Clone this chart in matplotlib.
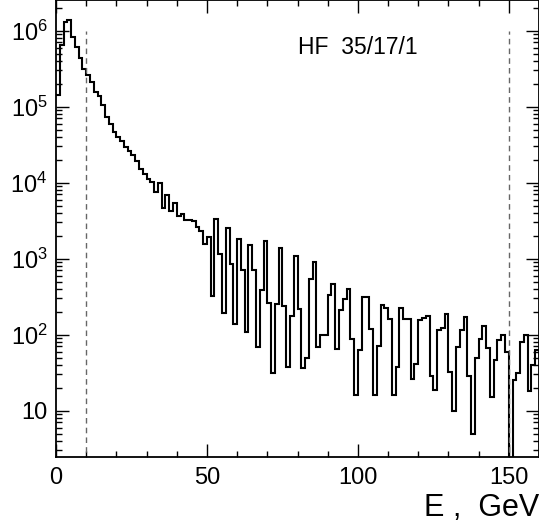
import numpy as np
import matplotlib
matplotlib.use('Agg')
from matplotlib import pyplot as plt
from matplotlib.ticker import FixedLocator, LogLocator, NullFormatter

plt.rcParams['font.family'] = ['Liberation Sans', 'DejaVu Sans']
plt.rcParams['mathtext.fontset'] = 'custom'
plt.rcParams['mathtext.rm'] = 'Liberation Sans'
plt.rcParams['mathtext.it'] = 'Liberation Sans:italic'

# energy histogram, 1.25 GeV bins from 0 to 160 GeV
bin_width = 1.25
counts = [
    141000, 646000, 1318000, 1380000, 813000, 617000, 437000, 316000,
    263000, 209000, 158000, 138000, 105000, 74000, 60000, 47000,
    40000, 35000, 29500, 26300, 23400, 19000, 15100, 12900,
    11200, 10200, 7600, 10000, 4600, 6900, 4200, 5400,
    3600, 3900, 3200, 3200, 3100, 2600, 2300, 1550,
    1950, 320, 3300, 1150, 195, 2570, 850, 138,
    1820, 720, 107, 1510, 720, 68, 390, 1700,
    263, 31, 257, 1380, 240, 38, 174, 1080,
    219, 37, 50, 537, 912, 69, 100, 100,
    331, 468, 65, 211, 295, 398, 87, 16,
    63, 316, 309, 120, 16, 72, 245, 224,
    162, 16, 38, 224, 162, 162, 26, 41,
    155, 166, 174, 29, 19, 115, 123, 186,
    32, 10, 69, 117, 170, 29, 5, 49,
    89, 129, 66, 15, 47, 85, 100, 60,
    0, 25, 31, 79, 100, 18, 40, 63,
]
cut_lines = [10, 150]
label_text = 'HF  35/17/1'
x_major = [0, 50, 100, 150]

counts = np.array(counts, dtype=float)
edges = np.arange(len(counts) + 1) * bin_width
drawn = np.where(counts > 0, counts, 1e-3)

fig = plt.figure(figsize=(5.39, 5.29), dpi=100)
ax = fig.add_axes([56 / 539, 72 / 529, 1 - 56 / 539, 1 - 72 / 529])

ax.stairs(drawn, edges, color='black', linewidth=1.5, baseline=None)
ax.vlines(cut_lines, 1e-3, 1e6, colors='#666666', linestyles=(0, (4, 3)),
          linewidth=1.0)

ax.set_yscale('log')
ax.set_xlim(0, 160)
ax.set_ylim(2.46, 2.53e6)

ax.xaxis.set_major_locator(FixedLocator(x_major))
ax.xaxis.set_minor_locator(FixedLocator(np.arange(0, 161, 10)))
ax.set_xticklabels([str(v) for v in x_major])

ax.yaxis.set_major_locator(FixedLocator([1e1, 1e2, 1e3, 1e4, 1e5, 1e6]))
ax.yaxis.set_minor_locator(LogLocator(base=10, subs=np.arange(2, 10)))
ax.yaxis.set_minor_formatter(NullFormatter())
ax.set_yticklabels(['10', r'$10^{2}$', r'$10^{3}$', r'$10^{4}$',
                    r'$10^{5}$', r'$10^{6}$'])

ax.tick_params(which='both', direction='in', top=True, right=True,
               labelsize=17, width=1.0, color='black')
ax.tick_params(which='major', length=9.5)
ax.tick_params(which='minor', length=4.5)
ax.tick_params(axis='x', pad=7)
ax.tick_params(axis='y', pad=6)
for s in ax.spines.values():
    s.set_linewidth(1.3)

fig.text(298 / 539, 1 - 47 / 529, label_text, fontsize=16.5, ha='left',
         va='center')
fig.text(424 / 539, 1 - 508 / 529, 'E ,  GeV', fontsize=22, ha='left',
         va='center')

plt.savefig('out.png', dpi=100)
